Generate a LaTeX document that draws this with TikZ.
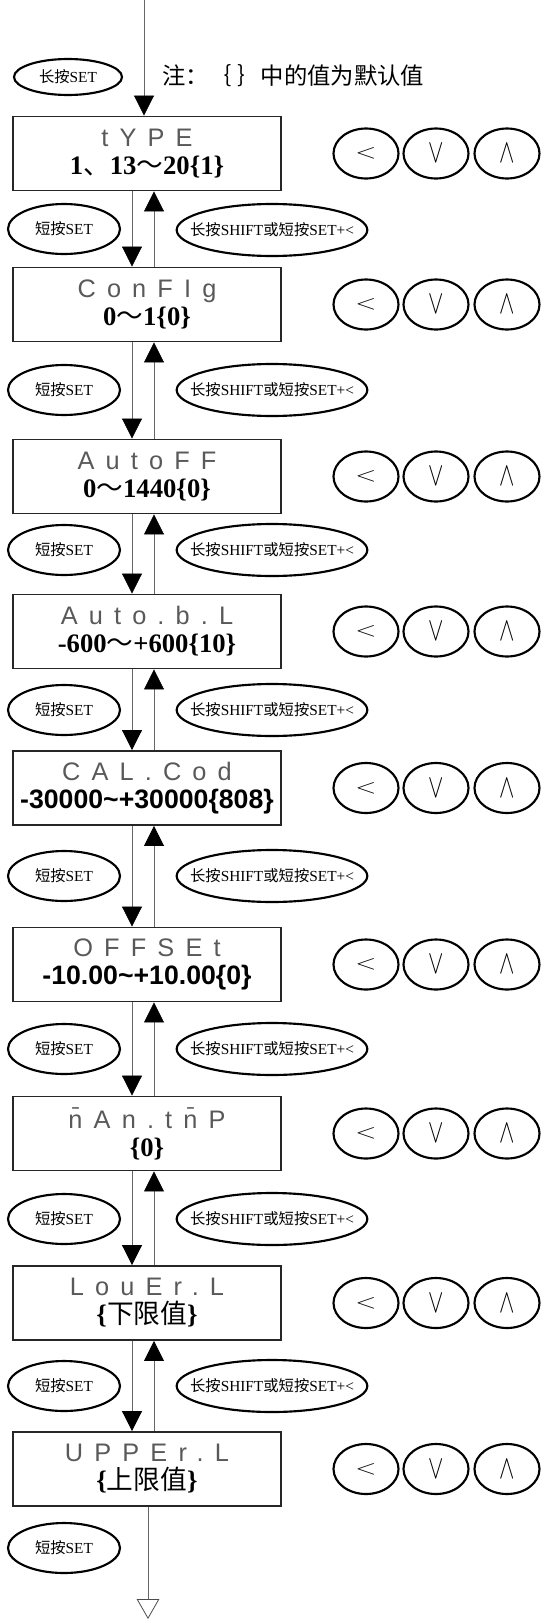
\documentclass[tikz,border=0pt]{standalone}
\usepackage{fontspec}
\usepackage{graphicx}
\setmainfont{Liberation Serif}
\newfontfamily\cjk{Noto Sans CJK SC}
\newfontfamily\segfont[LetterSpace=44]{Liberation Sans}
\newfontfamily\valsans{Liberation Sans}
\usetikzlibrary{shapes.geometric,arrows.meta}

\newcommand{\seg}[1]{{\segfont\fontsize{19}{21}\selectfont\color{black!65}#1}}
\newcommand{\val}[1]{{\bfseries\fontsize{20}{21}\selectfont #1}}
\newcommand{\duanset}{{\cjk 短按}SET}
\newcommand{\backset}{{\cjk 长按}SHIFT{\cjk 或短按}SET+<}

\begin{document}
\begin{tikzpicture}[x=0.75pt,y=0.75pt,yscale=-1,xscale=1,
  panel/.style={draw=black!85,line width=1.4pt,minimum width=201pt,minimum height=55.5pt,inner sep=0pt,align=center,font=\fontsize{20}{21}\selectfont},
  keybtn/.style={ellipse,draw,line width=1.6pt,minimum width=48.75pt,minimum height=37.5pt,inner sep=0pt},
  shortkey/.style={ellipse,draw,line width=1.6pt,minimum width=84pt,minimum height=37.5pt,inner sep=0pt,font=\fontsize{11.5}{12}\selectfont},
  longkey/.style={ellipse,draw,line width=1.6pt,minimum width=143pt,minimum height=39pt,inner xsep=-12pt,inner ysep=0pt,font=\fontsize{11.5}{12}\selectfont},
  flow/.style={draw=black!60,line width=0.6pt,-{Triangle[width=15pt,length=15pt,black]}},
  exitflow/.style={draw=black!60,line width=0.6pt,-{Triangle[open,width=17pt,length=15pt,black!70,fill=white]}}]
\useasboundingbox (0,0) rectangle (540,1620);

%Shape: Rectangle
\draw (147,153.5) node [panel] (type) {\seg{tYPE}\\\val{1{\cjk\mdseries 、}13{\cjk\mdseries ～}20\{1\}}};
%Shape: Rectangle
\draw (147,304.5) node [panel] (cfg) {\seg{ConFIg}\\\val{0{\cjk\mdseries ～}1\{0\}}};
%Shape: Rectangle
\draw (147,476.5) node [panel] (autooff) {\seg{AutoFF}\\\val{0{\cjk\mdseries ～}1440\{0\}}};
%Shape: Rectangle
\draw (147,631.5) node [panel] (autobl) {\seg{Auto.b.L}\\\val{-600{\cjk\mdseries ～}+600\{10\}}};
%Shape: Rectangle
\draw (147,788) node [panel] (calcod) {\seg{CAL.Cod}\\\val{\valsans -30000\textasciitilde+30000\{808\}}};
%Shape: Rectangle
\draw (147,964.5) node [panel] (offset) {\seg{OFFSEt}\\\val{\valsans -10.00\textasciitilde+10.00\{0\}}};
%Shape: Rectangle
\draw (147,1133.5) node [panel] (mantmp) {\seg{\=nAn.t\=nP}\\\val{\{0\}}};
%Shape: Rectangle
\draw (147,1303) node [panel] (lower) {\seg{LouEr.L}\\\val{\{{\cjk\mdseries 下限值}\}}};
%Shape: Rectangle
\draw (147,1469) node [panel] (upper) {\seg{UPPEr.L}\\\val{\{{\cjk\mdseries 上限值}\}}};

%Shape: Ellipse
\draw (366,153.5) node [keybtn] (ltype) {\scalebox{1}[0.75]{\fontsize{22}{22}\selectfont$<$}};
\draw (436,153.5) node [keybtn] (dtype) {\scalebox{1}[1.45]{\fontsize{17}{17}\selectfont$\vee$}};
\draw (507,153.5) node [keybtn] (utype) {\scalebox{1}[1.45]{\fontsize{17}{17}\selectfont$\wedge$}};
%Shape: Ellipse
\draw (366,304.5) node [keybtn] (lcfg) {\scalebox{1}[0.75]{\fontsize{22}{22}\selectfont$<$}};
\draw (436,304.5) node [keybtn] (dcfg) {\scalebox{1}[1.45]{\fontsize{17}{17}\selectfont$\vee$}};
\draw (507,304.5) node [keybtn] (ucfg) {\scalebox{1}[1.45]{\fontsize{17}{17}\selectfont$\wedge$}};
%Shape: Ellipse
\draw (366,476.5) node [keybtn] (lautooff) {\scalebox{1}[0.75]{\fontsize{22}{22}\selectfont$<$}};
\draw (436,476.5) node [keybtn] (dautooff) {\scalebox{1}[1.45]{\fontsize{17}{17}\selectfont$\vee$}};
\draw (507,476.5) node [keybtn] (uautooff) {\scalebox{1}[1.45]{\fontsize{17}{17}\selectfont$\wedge$}};
%Shape: Ellipse
\draw (366,631.5) node [keybtn] (lautobl) {\scalebox{1}[0.75]{\fontsize{22}{22}\selectfont$<$}};
\draw (436,631.5) node [keybtn] (dautobl) {\scalebox{1}[1.45]{\fontsize{17}{17}\selectfont$\vee$}};
\draw (507,631.5) node [keybtn] (uautobl) {\scalebox{1}[1.45]{\fontsize{17}{17}\selectfont$\wedge$}};
%Shape: Ellipse
\draw (366,788) node [keybtn] (lcalcod) {\scalebox{1}[0.75]{\fontsize{22}{22}\selectfont$<$}};
\draw (436,788) node [keybtn] (dcalcod) {\scalebox{1}[1.45]{\fontsize{17}{17}\selectfont$\vee$}};
\draw (507,788) node [keybtn] (ucalcod) {\scalebox{1}[1.45]{\fontsize{17}{17}\selectfont$\wedge$}};
%Shape: Ellipse
\draw (366,964.5) node [keybtn] (loffset) {\scalebox{1}[0.75]{\fontsize{22}{22}\selectfont$<$}};
\draw (436,964.5) node [keybtn] (doffset) {\scalebox{1}[1.45]{\fontsize{17}{17}\selectfont$\vee$}};
\draw (507,964.5) node [keybtn] (uoffset) {\scalebox{1}[1.45]{\fontsize{17}{17}\selectfont$\wedge$}};
%Shape: Ellipse
\draw (366,1133.5) node [keybtn] (lmantmp) {\scalebox{1}[0.75]{\fontsize{22}{22}\selectfont$<$}};
\draw (436,1133.5) node [keybtn] (dmantmp) {\scalebox{1}[1.45]{\fontsize{17}{17}\selectfont$\vee$}};
\draw (507,1133.5) node [keybtn] (umantmp) {\scalebox{1}[1.45]{\fontsize{17}{17}\selectfont$\wedge$}};
%Shape: Ellipse
\draw (366,1303) node [keybtn] (llower) {\scalebox{1}[0.75]{\fontsize{22}{22}\selectfont$<$}};
\draw (436,1303) node [keybtn] (dlower) {\scalebox{1}[1.45]{\fontsize{17}{17}\selectfont$\vee$}};
\draw (507,1303) node [keybtn] (ulower) {\scalebox{1}[1.45]{\fontsize{17}{17}\selectfont$\wedge$}};
%Shape: Ellipse
\draw (366,1469) node [keybtn] (lupper) {\scalebox{1}[0.75]{\fontsize{22}{22}\selectfont$<$}};
\draw (436,1469) node [keybtn] (dupper) {\scalebox{1}[1.45]{\fontsize{17}{17}\selectfont$\vee$}};
\draw (507,1469) node [keybtn] (uupper) {\scalebox{1}[1.45]{\fontsize{17}{17}\selectfont$\wedge$}};

%Shape: Ellipse
\draw (68,77) node [shortkey,minimum width=81pt,minimum height=27pt] (hold) {{\cjk 长按}SET};
%Shape: Ellipse
\draw (64,229) node [shortkey] (s1) {\duanset};
\draw (272,230) node [longkey] (b1) {\backset};
\draw (64,390) node [shortkey] (s2) {\duanset};
\draw (272,390) node [longkey] (b2) {\backset};
\draw (64,550) node [shortkey] (s3) {\duanset};
\draw (272,550) node [longkey] (b3) {\backset};
\draw (64,710) node [shortkey] (s4) {\duanset};
\draw (272,710) node [longkey] (b4) {\backset};
\draw (64,876) node [shortkey] (s5) {\duanset};
\draw (272,876) node [longkey] (b5) {\backset};
\draw (64,1049) node [shortkey] (s6) {\duanset};
\draw (272,1049) node [longkey] (b6) {\backset};
\draw (64,1219) node [shortkey] (s7) {\duanset};
\draw (272,1219) node [longkey] (b7) {\backset};
\draw (64,1386) node [shortkey] (s8) {\duanset};
\draw (272,1386) node [longkey] (b8) {\backset};
\draw (64,1548) node [shortkey] (s9) {\duanset};

% Text Node
\draw (162,76) node [anchor=west,inner sep=0pt] (note) {\cjk\fontsize{17.5}{18}\selectfont 注：｛ ｝中的值为默认值};

%Straight Lines
\coordinate (entry) at (144,0);
\coordinate (dnx) at (132,0);
\coordinate (upx) at (154,0);
\coordinate (exit) at (148,1619);
\draw [flow] (entry) -- (entry |- type.north);
\draw [flow] (type.south -| dnx) -- (cfg.north -| dnx);
\draw [flow] (cfg.north -| upx) -- (type.south -| upx);
\draw [flow] (cfg.south -| dnx) -- (autooff.north -| dnx);
\draw [flow] (autooff.north -| upx) -- (cfg.south -| upx);
\draw [flow] (autooff.south -| dnx) -- (autobl.north -| dnx);
\draw [flow] (autobl.north -| upx) -- (autooff.south -| upx);
\draw [flow] (autobl.south -| dnx) -- (calcod.north -| dnx);
\draw [flow] (calcod.north -| upx) -- (autobl.south -| upx);
\draw [flow] (calcod.south -| dnx) -- (offset.north -| dnx);
\draw [flow] (offset.north -| upx) -- (calcod.south -| upx);
\draw [flow] (offset.south -| dnx) -- (mantmp.north -| dnx);
\draw [flow] (mantmp.north -| upx) -- (offset.south -| upx);
\draw [flow] (mantmp.south -| dnx) -- (lower.north -| dnx);
\draw [flow] (lower.north -| upx) -- (mantmp.south -| upx);
\draw [flow] (lower.south -| dnx) -- (upper.north -| dnx);
\draw [flow] (upper.north -| upx) -- (lower.south -| upx);
\draw [exitflow] (upper.south -| exit) -- (exit);
\end{tikzpicture}
\end{document}
